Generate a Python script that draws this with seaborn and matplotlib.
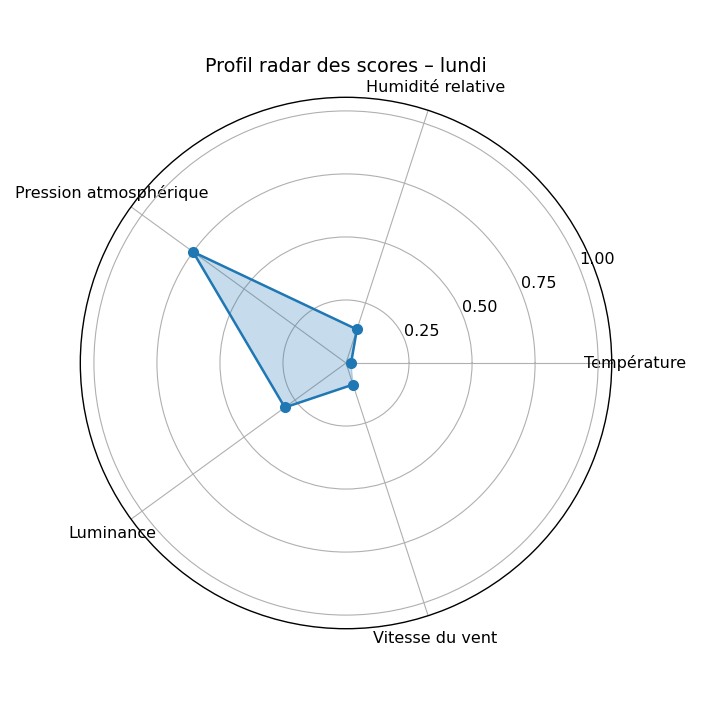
import numpy as np
import pandas as pd
import matplotlib
matplotlib.use("Agg")
import matplotlib.pyplot as plt
import seaborn as sns

categories = ["Température", "Humidité relative", "Pression atmosphérique", "Luminance", "Vitesse du vent"]
values = [0.02, 0.14, 0.75, 0.30, 0.09]
r_ticks = [0.25, 0.50, 0.75, 1.00]
r_tick_labels = ["0.25", "0.50", "0.75", "1.00"]
title = "Profil radar des scores – lundi"

plt.rcParams["font.family"] = ["DejaVu Sans"]
plt.rcParams["text.color"] = "black"
plt.rcParams["xtick.color"] = "black"
plt.rcParams["ytick.color"] = "black"

n = len(categories)
angles = np.linspace(0, 2 * np.pi, n, endpoint=False)
df = pd.DataFrame({
    "angle": np.append(angles, angles[0]),
    "value": values + [values[0]],
})

fig = plt.figure(figsize=(7.02, 7.02), dpi=100)
ax = fig.add_axes([0.1144, 0.1044, 0.757, 0.757], projection="polar")

ax.fill(df["angle"], df["value"], color="C0", alpha=0.25, zorder=2)
sns.lineplot(data=df, x="angle", y="value", sort=False, ax=ax, color="C0",
             linewidth=1.8, marker="o", markersize=8, markeredgewidth=0, zorder=3)

ax.set_xticks(angles)
ax.set_xticklabels(categories, fontsize=11.5)
ax.tick_params(axis="x", pad=6.5)
ax.set_yticks(r_ticks)
ax.set_yticklabels(r_tick_labels, fontsize=11.5)
ax.set_ylim(0, 1.054)
ax.set_rlabel_position(22.5)
ax.grid(True, color="#b0b0b0", linewidth=0.8)
ax.set_xlabel("")
ax.set_ylabel("")
ax.spines["polar"].set_color("black")
ax.spines["polar"].set_linewidth(1.0)
ax.set_title(title, fontsize=13.8, pad=18.5)

fig.savefig("out.png", dpi=100, facecolor="white")
